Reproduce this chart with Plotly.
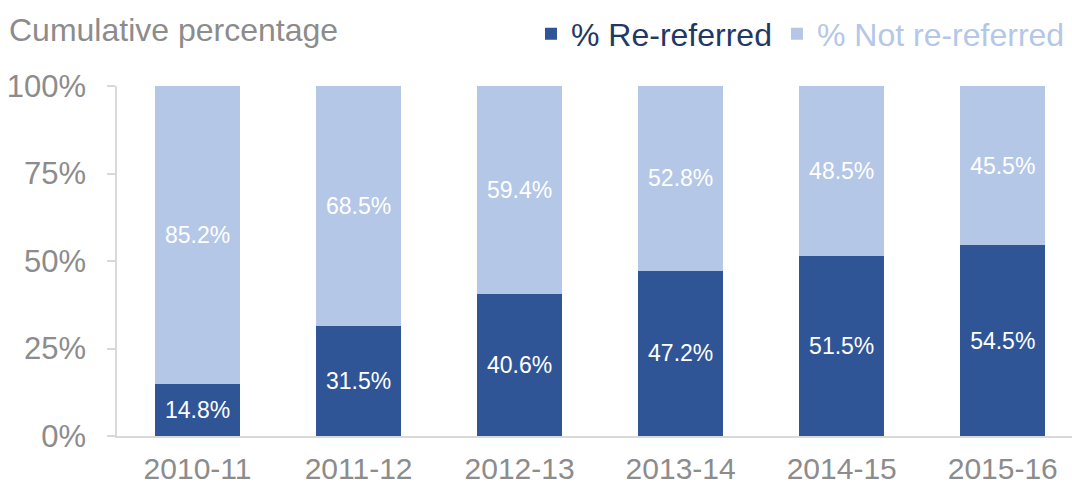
import plotly.graph_objects as go

years = ["2010-11", "2011-12", "2012-13", "2013-14", "2014-15", "2015-16"]
re_referred = [14.8, 31.5, 40.6, 47.2, 51.5, 54.5]
not_re_referred = [85.2, 68.5, 59.4, 52.8, 48.5, 45.5]
y_ticks = [0, 25, 50, 75, 100]
y_tick_labels = ["0%", "25%", "50%", "75%", "100%"]

dark = "#2F5597"
light = "#B4C7E7"
grey = "#8C8C8C"
font_family = "Liberation Sans, Arial, sans-serif"

fig = go.Figure()
fig.add_trace(go.Bar(
    x=years, y=re_referred,
    name="<span style='color:#1F3864'>% Re-referred</span>",
    marker=dict(color=dark, line=dict(width=0)),
    text=[f"{v:.1f}%" for v in re_referred],
    textposition="inside", insidetextanchor="middle",
    textfont=dict(color="white", size=23, family=font_family),
    width=0.53,
))
fig.add_trace(go.Bar(
    x=years, y=not_re_referred,
    name="<span style='color:#B4C7E7'>% Not re-referred</span>",
    marker=dict(color=light, line=dict(width=0)),
    text=[f"{v:.1f}%" for v in not_re_referred],
    textposition="inside", insidetextanchor="middle",
    textfont=dict(color="white", size=23, family=font_family),
    width=0.53,
))

fig.update_layout(
    barmode="stack",
    width=1072, height=487,
    margin=dict(l=117, r=0, t=86, b=51, autoexpand=False),
    paper_bgcolor="white", plot_bgcolor="white",
    font=dict(family=font_family, color=grey, size=31),
    showlegend=True,
    legend=dict(orientation="h", xref="container", x=1070/1072, xanchor="right",
                yref="container", y=1 - 34/487, yanchor="middle",
                font=dict(size=32), traceorder="normal",
                itemwidth=30, bgcolor="rgba(0,0,0,0)"),
)
fig.add_annotation(text="Cumulative percentage", xref="paper", yref="paper",
                   x=-110/955, y=1 + 56/350, xanchor="left", yanchor="middle",
                   showarrow=False, font=dict(size=32, color=grey, family=font_family))

fig.update_xaxes(type="category", range=[-0.5, 5.43], showline=True, linecolor="#D9D9D9",
                 linewidth=1.5, ticks="", tickfont=dict(size=30, color=grey), showgrid=False,
                 ticklabelstandoff=5)
fig.update_yaxes(range=[0, 100], tickvals=y_ticks, ticktext=y_tick_labels,
                 showline=True, linecolor="#D9D9D9", linewidth=1.5,
                 ticks="outside", ticklen=8, tickcolor="#D9D9D9", tickwidth=1.5,
                 showgrid=False, zeroline=False, tickfont=dict(size=31, color=grey),
                 ticklabelstandoff=15)

fig.write_html("out.html", config={"displayModeBar": False},
               post_script="document.body.style.margin='0';document.body.style.overflow='hidden';")
